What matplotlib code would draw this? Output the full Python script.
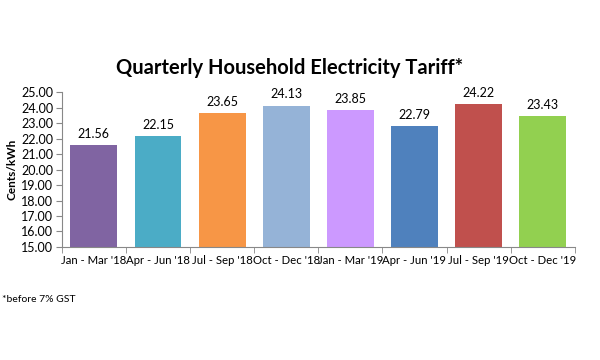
import numpy as np
import matplotlib.pyplot as plt

quarters = ["Jan - Mar '18", "Apr - Jun '18", "Jul - Sep '18", "Oct - Dec '18",
            "Jan - Mar '19", "Apr - Jun '19", "Jul - Sep '19", "Oct - Dec '19"]
tariff = [21.56, 22.15, 23.65, 24.13, 23.85, 22.79, 24.22, 23.43]
colors = ['#8064A2', '#4BACC6', '#F79646', '#95B3D7',
          '#CC99FF', '#4F81BD', '#C0504D', '#92D050']
yticks = np.arange(15, 25.01, 1.0)

plt.rcParams['font.family'] = ['Lato', 'DejaVu Sans']

fig = plt.figure(figsize=(6, 3.6), dpi=100)
ax = fig.add_axes([0.103, 0.314, 0.855, 0.430])

x = np.arange(len(quarters))
bars = ax.bar(x, tariff, width=0.73, color=colors, bottom=0)
for b, v in zip(bars, tariff):
    ax.text(b.get_x() + b.get_width() / 2, v + 0.35, f'{v:.2f}',
            ha='center', va='bottom', fontsize=9)

ax.set_ylim(15, 25)
ax.set_xlim(-0.5, len(quarters) - 0.5)
ax.set_yticks(yticks)
ax.set_yticklabels([f'{t:.2f}' for t in yticks], fontsize=9)
ax.set_xticks(x)
ax.set_xticklabels(quarters, fontsize=8.2)
ax.tick_params(axis='x', length=0, pad=6)
ax.set_xticks(np.arange(-0.5, len(quarters), 1.0), minor=True)
ax.tick_params(axis='x', which='minor', length=4, color='#888888')
ax.tick_params(axis='y', length=4, color='#888888', pad=2)
ax.spines['top'].set_visible(False)
ax.spines['right'].set_visible(False)
ax.spines['left'].set_color('#888888')
ax.spines['bottom'].set_color('#888888')
ax.set_ylabel('Cents/kWh', fontsize=8.5, fontweight='bold', labelpad=3)

fig.text(0.483, 0.81, 'Quarterly Household Electricity Tariff*',
         ha='center', va='center', fontsize=14.5, fontweight='bold')
fig.text(0.003, 0.167, '*before 7% GST', ha='left', va='center', fontsize=7.5)

fig.savefig('out.png', dpi=100)
